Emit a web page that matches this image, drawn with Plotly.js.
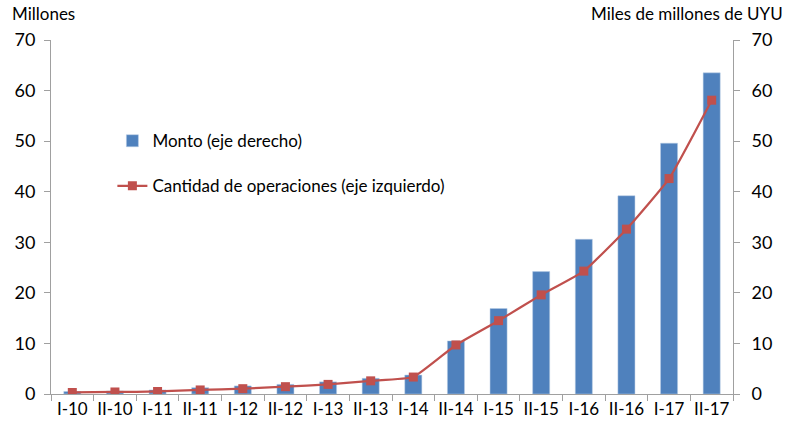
<!DOCTYPE html>
<html>
<head>
<meta charset="utf-8">
<script src="https://cdn.plot.ly/plotly-3.0.1.min.js"></script>
<style>html,body{margin:0;padding:0;background:#fff;}#chart{width:794px;height:431px;}</style>
</head>
<body>
<div id="chart"></div>
<script>
const categories = ["I-10","II-10","I-11","II-11","I-12","II-12","I-13","II-13","I-14","II-14","I-15","II-15","I-16","II-16","I-17","II-17"];
const montoValues = [0.5,0.6,0.8,1.25,1.6,1.9,2.4,3.1,3.75,10.5,16.9,24.2,30.6,39.2,49.6,63.5];
const cantidadValues = [0.3,0.4,0.5,0.8,1.05,1.45,1.9,2.6,3.35,9.7,14.5,19.6,24.3,32.6,42.6,58.1];
const yTicks = [0,10,20,30,40,50,60,70];

const FONT = "Lato, 'Open Sans', sans-serif";

const traces = [
  {
    type: "bar",
    name: "Monto (eje derecho)",
    x: categories,
    y: montoValues,
    yaxis: "y",
    width: 0.4,
    marker: {color: "#4F81BD", line: {color: "#B9CDE5", width: 0.5}},
    legendgroup: "a"
  },
  {
    type: "scatter",
    mode: "lines+markers",
    name: "Cantidad de operaciones (eje izquierdo)",
    x: categories,
    y: cantidadValues,
    yaxis: "y2",
    line: {color: "#C0504D", width: 2.25, shape: "spline", smoothing: 0.4},
    marker: {symbol: "square", size: 9, color: "#C0504D"},
    legendgroup: "b"
  }
];

const axisCommon = {
  range: [0, 70],
  tickvals: yTicks,
  showgrid: false,
  zeroline: false,
  showline: true,
  linecolor: "#A0A0A0",
  linewidth: 1,
  ticks: "outside",
  ticklen: 6,
  tickcolor: "#A0A0A0",
  tickfont: {family: FONT, size: 18, color: "#000"},
  fixedrange: true
};

const layout = {
  width: 794,
  height: 431,
  margin: {l: 51, r: 61, t: 40, b: 37},
  paper_bgcolor: "#fff",
  plot_bgcolor: "#fff",
  font: {family: FONT, color: "#000"},
  xaxis: {
    type: "category",
    range: [-0.5, 15.5],
    showgrid: false,
    showline: true,
    linecolor: "#A0A0A0",
    ticks: "outside",
    tickson: "boundaries",
    ticklen: 6,
    tickcolor: "#A0A0A0",
    tickfont: {family: FONT, size: 17, color: "#000"},
    tickangle: 0,
    fixedrange: true
  },
  yaxis: Object.assign({}, axisCommon, {side: "right", ticklabelstandoff: 8}),
  yaxis2: Object.assign({}, axisCommon, {side: "left", overlaying: "y", anchor: "x", ticklabelstandoff: 5}),
  showlegend: true,
  legend: {
    x: 0.09,
    y: 0.765,
    xanchor: "left",
    yanchor: "top",
    bgcolor: "rgba(0,0,0,0)",
    font: {family: FONT, size: 17, color: "#000"},
    tracegroupgap: 20,
    itemwidth: 30
  },
  annotations: [
    {text: "Millones", xref: "paper", yref: "paper", x: -0.06, y: 1.0, yshift: 27, xanchor: "left", yanchor: "middle", showarrow: false, font: {family: FONT, size: 17, color: "#000"}},
    {text: "Miles de millones de UYU", xref: "paper", yref: "paper", x: 1.0, xshift: 52, y: 1.0, yshift: 27, xanchor: "right", yanchor: "middle", showarrow: false, font: {family: FONT, size: 17, color: "#000"}}
  ]
};

Plotly.newPlot("chart", traces, layout, {displayModeBar: false, staticPlot: true});
</script>
</body>
</html>
